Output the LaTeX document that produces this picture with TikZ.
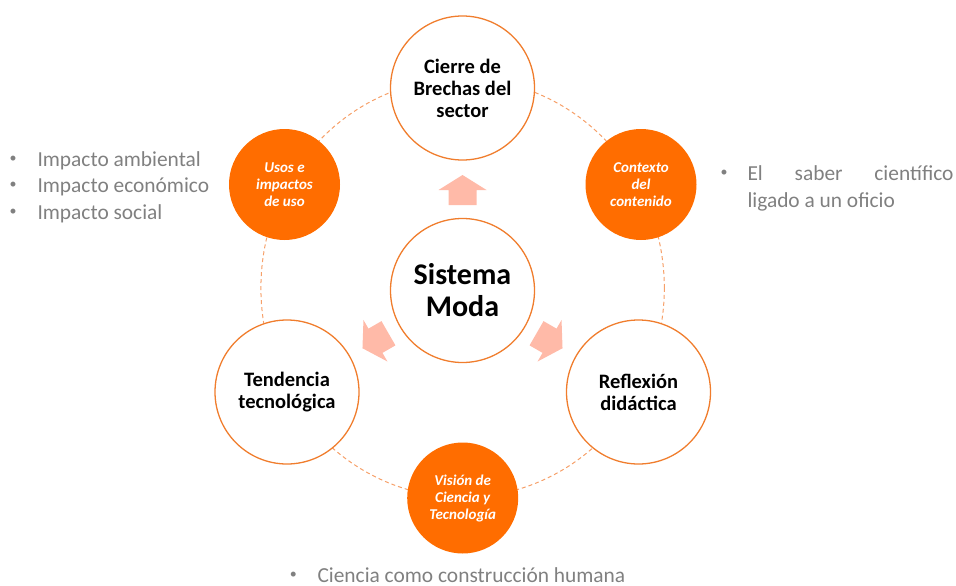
\documentclass[tikz,border=0pt]{standalone}
\usepackage{fontspec}
\setmainfont{Carlito}
\definecolor{ring}{RGB}{240,125,45}
\definecolor{fillor}{RGB}{255,109,0}
\definecolor{dashor}{RGB}{246,160,105}
\definecolor{arrowc}{RGB}{255,186,168}
\definecolor{note}{RGB}{128,128,128}
\begin{document}
\begin{tikzpicture}[x=1pt,y=-1pt,
  bigcirc/.style={circle, draw=ring, line width=1.3pt, fill=white, inner sep=0pt,
    minimum size=144pt, align=center, font=\bfseries\fontsize{20.5}{22}\selectfont},
  smallcirc/.style={circle, fill=fillor, inner sep=0pt, minimum size=111pt,
    align=center, text=white, font=\bfseries\itshape\fontsize{15}{17}\selectfont},
  notetext/.style={inner sep=0pt, text=note, font=\fontsize{21.4}{26.5}\selectfont, anchor=base west},
  notebullet/.style={inner sep=0pt, text=note, font=\fontsize{14}{16}\selectfont, anchor=center},
  flowarrow/.style={fill=arrowc}]
\useasboundingbox (0,0) rectangle (956,586);

% dashed orbit behind the circles
\draw[dashor, line width=1pt, dash pattern=on 4pt off 3pt]
  (462.6,288) ellipse [x radius=201.7pt, y radius=209.4pt];

% central and outer white circles
\node[bigcirc, font=\bfseries\fontsize{30}{32}\selectfont] (sys) at (462.5,290.5) {Sistema\\Moda};
\node[bigcirc] (top) at (462.5,88) {Cierre de\\Brechas del\\sector};
\node[bigcirc] (tend) at (287,392) {Tendencia\\tecnológica};
\node[bigcirc] (refl) at (638.5,392) {Reflexión\\didáctica};

% filled orange circles
\node[smallcirc] (usos) at (284.5,184.5) {Usos e\\impactos\\de uso};
\node[smallcirc] (cont) at (641,184.5) {Contexto\\del\\contenido};
\node[smallcirc] (vis) at (462.7,498) {Visión de\\Ciencia y\\Tecnología};

% block arrows pointing out of the centre
\foreach \ang in {90,210,330}
  \fill[flowarrow, shift={(sys.center)}, rotate=\ang]
    (85.5,-14) -- (100.5,-14) -- (100.5,-24) -- (115.5,0) -- (100.5,24)
    -- (100.5,14) -- (85.5,14) -- cycle;

% bullet notes, left
\node[notebullet] (bl1) at (13,159) {•};
\node[notetext] (tl1) at (37.3,166) {Impacto ambiental};
\node[notebullet] (bl2) at (13,185.5) {•};
\node[notetext] (tl2) at (37.3,192.5) {Impacto económico};
\node[notebullet] (bl3) at (13,212) {•};
\node[notetext] (tl3) at (37.3,219) {Impacto social};

% bullet note, right
\node[notebullet] (br1) at (724,173.5) {•};
\node[notetext] (tr1) at (747.3,180.5) {\makebox[206pt][s]{El saber científico}};
\node[notetext] (tr2) at (747.3,207) {ligado a un oficio};

% bullet note, bottom
\node[notebullet] (bb1) at (293.3,575) {•};
\node[notetext] (tb1) at (317.3,582) {Ciencia como construcción humana};
\end{tikzpicture}
\end{document}
